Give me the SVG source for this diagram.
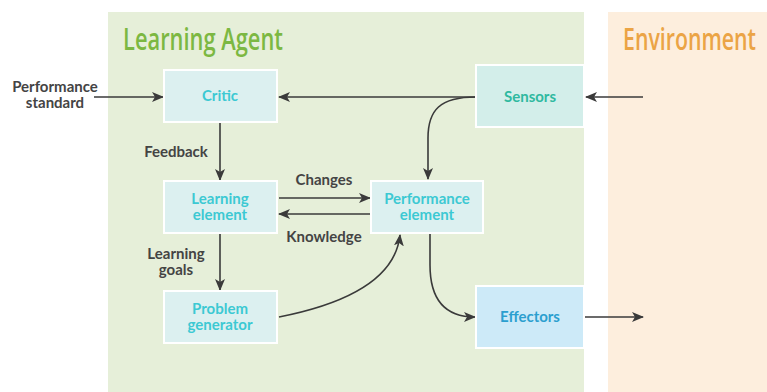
<svg xmlns="http://www.w3.org/2000/svg" width="767" height="392" viewBox="0 0 767 392">
  <style>
    .panel-title { font-family: "Open Sans", "Liberation Sans", sans-serif; font-weight: 600; font-size: 30px; }
    .box { stroke: #ffffff; stroke-width: 2; }
    .node-text { font-family: Lato, "Noto Sans", "Liberation Sans", sans-serif; font-weight: 700; font-size: 15px; text-anchor: middle; }
    .label { font-family: Lato, "Noto Sans", "Liberation Sans", sans-serif; font-weight: 700; font-size: 15px; fill: #444444; text-anchor: middle; }
    .edge { fill: none; stroke: #3a3a3a; stroke-width: 1.6; marker-end: url(#arrow); }
  </style>
  <defs>
    <marker id="arrow" viewBox="0 0 12 10" refX="11" refY="5" markerWidth="12" markerHeight="10" markerUnits="userSpaceOnUse" orient="auto">
      <path d="M0,0 L12,5 L0,10 L3,5 Z" fill="#3a3a3a"/>
    </marker>
  </defs>

  <rect x="0" y="0" width="767" height="392" fill="#ffffff"/>

  <!-- Panels -->
  <g id="learning-agent">
    <rect x="108" y="12" width="476" height="380" fill="#e6efd9"/>
    <text class="panel-title" x="123" y="50" fill="#7cb842" textLength="160" lengthAdjust="spacingAndGlyphs">Learning Agent</text>
  </g>
  <g id="environment">
    <rect x="608" y="12" width="159" height="380" fill="#fdeedd"/>
    <text class="panel-title" x="623" y="50" fill="#eba445" textLength="133" lengthAdjust="spacingAndGlyphs">Environment</text>
  </g>

  <!-- Connectors -->
  <g id="connectors">
    <path class="edge" d="M94,97 L163,97"/>
    <path class="edge" d="M476,97 L279,97"/>
    <path class="edge" d="M643,97 L586,97"/>
    <path class="edge" d="M476,97 C440,97 428,110 428,138 L428,179"/>
    <path class="edge" d="M220,123 L220,180"/>
    <path class="edge" d="M279,198 L370,198"/>
    <path class="edge" d="M370,214 L279,214"/>
    <path class="edge" d="M220,234 L220,290"/>
    <path class="edge" d="M279,317 C340,305 395,282 400,235"/>
    <path class="edge" d="M430,234 L430,265 C430,300 445,317 475,317"/>
    <path class="edge" d="M577,317 L643,317"/>

    <text class="label" x="55" y="92">Performance</text>
    <text class="label" x="55" y="108">standard</text>
    <text class="label" x="176" y="157">Feedback</text>
    <text class="label" x="324" y="185">Changes</text>
    <text class="label" x="324" y="242">Knowledge</text>
    <text class="label" x="176" y="259">Learning</text>
    <text class="label" x="176" y="275">goals</text>
  </g>

  <!-- Nodes -->
  <g id="critic">
    <rect class="box" x="164" y="70" width="113" height="52" fill="#dcf0f0"/>
    <text class="node-text" x="220" y="101" fill="#3cc9d3">Critic</text>
  </g>
  <g id="sensors">
    <rect class="box" x="476" y="65" width="108" height="62" fill="#d3eeea"/>
    <text class="node-text" x="530" y="102" fill="#2fb9a0">Sensors</text>
  </g>
  <g id="learning-element">
    <rect class="box" x="164" y="181" width="113" height="52" fill="#dcf0f0"/>
    <text class="node-text" x="220" y="204" fill="#3cc9d3">Learning</text>
    <text class="node-text" x="220" y="220" fill="#3cc9d3">element</text>
  </g>
  <g id="performance-element">
    <rect class="box" x="371" y="181" width="112" height="52" fill="#dcf0f0"/>
    <text class="node-text" x="427" y="204" fill="#3cc9d3">Performance</text>
    <text class="node-text" x="427" y="220" fill="#3cc9d3">element</text>
  </g>
  <g id="problem-generator">
    <rect class="box" x="164" y="291" width="113" height="52" fill="#dcf0f0"/>
    <text class="node-text" x="220" y="314" fill="#3cc9d3">Problem</text>
    <text class="node-text" x="220" y="330" fill="#3cc9d3">generator</text>
  </g>
  <g id="effectors">
    <rect class="box" x="476" y="286" width="108" height="62" fill="#cdeaf8"/>
    <text class="node-text" x="530" y="322" fill="#2b9fcf">Effectors</text>
  </g>
</svg>
